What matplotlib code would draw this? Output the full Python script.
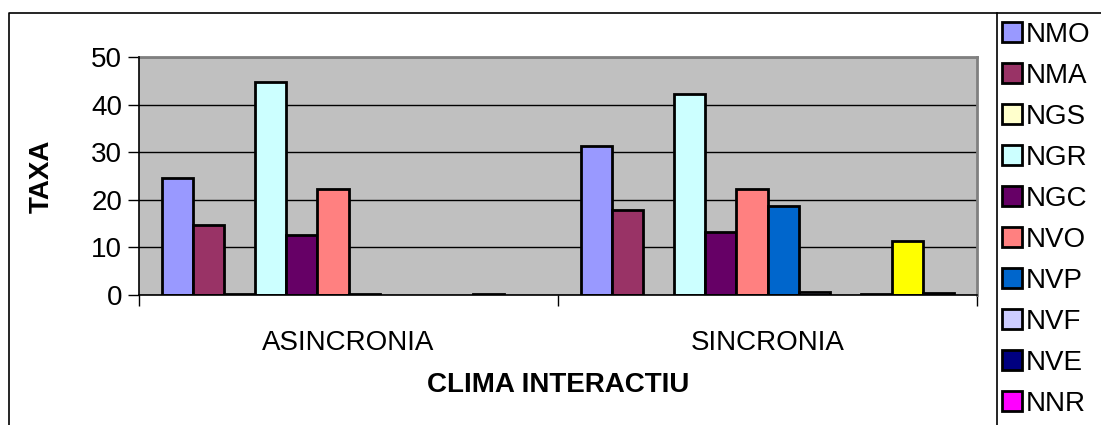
import numpy as np
import matplotlib
matplotlib.use("Agg")
import matplotlib.pyplot as plt
from matplotlib.lines import Line2D

categorias = ["ASINCRONIA", "SINCRONIA"]
series = ["NMO", "NMA", "NGS", "NGR", "NGC", "NVO", "NVP", "NVF", "NVE", "NNR", "S11", "S12"]
asincronia = [24.6, 14.8, 0.3, 44.7, 12.7, 22.3, 0.2, 0.0, 0.0, 0.0, 0.2, 0.0]
sincronia = [31.3, 17.9, 0.0, 42.3, 13.3, 22.3, 18.8, 0.7, 0.0, 0.3, 11.4, 0.5]
colores = ["#9999FF", "#993366", "#FFFFCC", "#CCFFFF", "#660066", "#FF8080",
           "#0066CC", "#CCCCFF", "#000080", "#FF00FF", "#FFFF00", "#00FFFF"]
n_leyenda = 10  # la leyenda original esta cortada, solo se ven 10

plt.rcParams['font.family'] = ['Liberation Sans', 'DejaVu Sans']
fs = 20

fig = plt.figure(figsize=(11.01, 4.25), dpi=100)
ax = fig.add_axes([139 / 1101, 1 - 295 / 425, (977 - 139) / 1101, (295 - 57) / 425])
ax.set_facecolor("#C0C0C0")

x = np.arange(len(categorias))
w = 1 / (len(series) + 1.5)
handles = []
for i, nombre in enumerate(series):
    vals = np.array([asincronia[i], sincronia[i]])
    lw = [2.0 if v > 0 else 0 for v in vals]
    b = ax.bar(x + (i - (len(series) - 1) / 2) * w, vals, width=w, color=colores[i],
               edgecolor="black", linewidth=lw, zorder=3, label=nombre)
    handles.append(b)

ax.set_xlim(-0.5, 1.5)
ax.set_ylim(0, 50)
ax.set_yticks([0, 10, 20, 30, 40, 50])
ax.yaxis.grid(True, color="black", linewidth=1.0, zorder=1)
ax.tick_params(axis="y", labelsize=fs, length=8, width=1, pad=4, direction="out")

ax.set_xticks([-0.5, 0.5, 1.5])
ax.set_xticklabels([])
ax.set_xticks(x, minor=True)
ax.set_xticklabels(categorias, minor=True)
ax.tick_params(axis="x", which="major", length=8, width=1, direction="out")
ax.tick_params(axis="x", which="minor", length=0, labelsize=fs, pad=25)

for s in ["top", "right"]:
    ax.spines[s].set_color("#808080")
    ax.spines[s].set_linewidth(2)
for s in ["left", "bottom"]:
    ax.spines[s].set_color("black")
    ax.spines[s].set_linewidth(1.2)
    ax.spines[s].set_zorder(4)

ax.set_ylabel("TAXA", fontsize=fs, fontweight="bold", labelpad=26)
ax.set_xlabel("CLIMA INTERACTIU", fontsize=fs, fontweight="bold", labelpad=12)

# bordes del area del grafico y de la leyenda
fig.add_artist(Line2D([8.5 / 1101, 8.5 / 1101, 1], [0, 1 - 12.5 / 425, 1 - 12.5 / 425],
                      color="black", linewidth=1.2, transform=fig.transFigure))
fig.add_artist(Line2D([997 / 1101, 997 / 1101], [0, 1 - 12.5 / 425],
                      color="black", linewidth=1.2, transform=fig.transFigure))

leg = fig.legend(handles[:n_leyenda], series[:n_leyenda], loc="upper left",
                 bbox_to_anchor=(1002 / 1101, 1 - 22 / 425), frameon=False,
                 fontsize=fs, handlelength=0.72, handleheight=0.72, handletextpad=0.15,
                 labelspacing=0.54, borderpad=0, borderaxespad=0)
for h in leg.legend_handles:
    h.set_linewidth(2.0)
    h.set_edgecolor("black")

fig.savefig("out.png", dpi=100)
